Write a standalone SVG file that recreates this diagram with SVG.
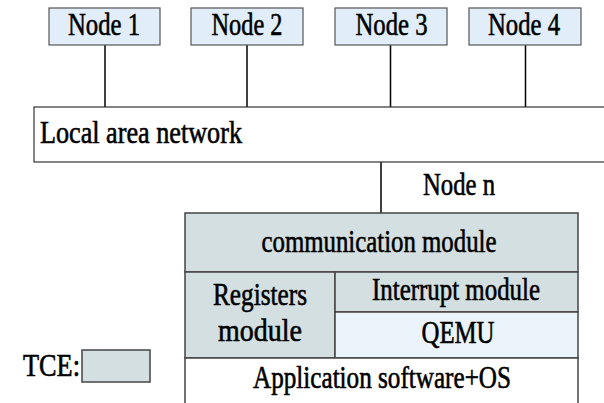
<svg xmlns="http://www.w3.org/2000/svg" width="604" height="403" viewBox="0 0 604 403">
  <style>
    .node { fill: #e1eefa; stroke: #555; stroke-width: 1.2; }
    .tce { fill: #d3dfe0; stroke: #444; stroke-width: 1.5; }
    .qemu { fill: #ebf3fb; stroke: #444; stroke-width: 1.5; }
    .plain { fill: #fff; stroke: #444; stroke-width: 1.5; }
    .lan { fill: #fff; stroke: #333; stroke-width: 1.2; }
    .conn { stroke: #000; stroke-width: 1.5; fill: none; }
    text { stroke: #000; stroke-width: 0.6; }
  </style>
  <rect width="604" height="403" fill="#fff"/>

  <g id="connectors">
    <line class="conn" x1="105" y1="45" x2="105" y2="107"/>
    <line class="conn" x1="247" y1="45" x2="247" y2="107"/>
    <line class="conn" x1="390.5" y1="45" x2="390.5" y2="107"/>
    <line class="conn" x1="525.5" y1="45" x2="525.5" y2="107"/>
    <line class="conn" x1="381" y1="162" x2="381" y2="213"/>
  </g>

  <g font-family="Liberation Serif, Times New Roman, serif" font-size="31" fill="#000">
  <g id="node1">
    <rect class="node" x="49" y="8" width="111" height="37"/>
    <text x="104" y="35" text-anchor="middle" textLength="72" lengthAdjust="spacingAndGlyphs">Node 1</text>
  </g>
  <g id="node2">
    <rect class="node" x="191" y="8" width="112" height="37"/>
    <text x="247" y="35" text-anchor="middle" textLength="71" lengthAdjust="spacingAndGlyphs">Node 2</text>
  </g>
  <g id="node3">
    <rect class="node" x="335" y="8" width="112" height="37"/>
    <text x="391.5" y="35" text-anchor="middle" textLength="72" lengthAdjust="spacingAndGlyphs">Node 3</text>
  </g>
  <g id="node4">
    <rect class="node" x="469" y="8" width="112" height="37"/>
    <text x="524" y="35" text-anchor="middle" textLength="72" lengthAdjust="spacingAndGlyphs">Node 4</text>
  </g>

  <g id="lan">
    <rect class="lan" x="34" y="107" width="590" height="55"/>
    <text x="40" y="143" textLength="202" lengthAdjust="spacingAndGlyphs">Local area network</text>
  </g>

  <g id="node-n">
    <text x="423" y="195" textLength="72" lengthAdjust="spacingAndGlyphs" stroke-width="0.2">Node  n</text>
  </g>

  <g id="stack">
    <g id="comm">
      <rect class="tce" x="185" y="213" width="393" height="59"/>
      <text x="379" y="252" text-anchor="middle" textLength="235" lengthAdjust="spacingAndGlyphs">communication module</text>
    </g>
    <g id="registers">
      <rect class="tce" x="185" y="272" width="150" height="86"/>
      <text x="260" y="305" text-anchor="middle" textLength="94" lengthAdjust="spacingAndGlyphs">Registers</text>
      <text x="260" y="341" text-anchor="middle" textLength="84" lengthAdjust="spacingAndGlyphs">module</text>
    </g>
    <g id="interrupt">
      <rect class="tce" x="335" y="272" width="243" height="40"/>
      <text x="456" y="300" text-anchor="middle" textLength="168" lengthAdjust="spacingAndGlyphs">Interrupt module</text>
    </g>
    <g id="qemu">
      <rect class="qemu" x="335" y="312" width="243" height="46"/>
      <text x="458" y="343" text-anchor="middle" textLength="73" lengthAdjust="spacingAndGlyphs">QEMU</text>
    </g>
    <g id="app">
      <rect class="plain" x="185" y="358" width="393" height="60"/>
      <text x="382" y="388" text-anchor="middle" textLength="258" lengthAdjust="spacingAndGlyphs">Application software+OS</text>
    </g>
  </g>

  <g id="legend-tce">
    <text x="23" y="376" textLength="57" lengthAdjust="spacingAndGlyphs">TCE:</text>
    <rect class="tce" x="82" y="350" width="68" height="32"/>
  </g>
  </g>
</svg>
